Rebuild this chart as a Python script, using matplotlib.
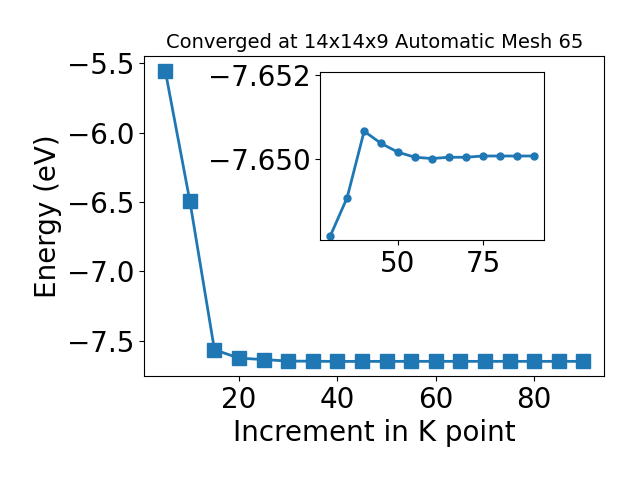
import matplotlib
matplotlib.use("Agg")
import matplotlib.pyplot as plt

kpoints = [5, 10, 15, 20, 25, 30, 35, 40, 45, 50, 55, 60, 65, 70, 75, 80, 85, 90]
energy = [-5.551, -6.492, -7.566, -7.627, -7.637,
          -7.64815, -7.64907, -7.65065, -7.65036, -7.65015, -7.65003, -7.65000,
          -7.65003, -7.65003, -7.65006, -7.65006, -7.65006, -7.65006]
inset_k = kpoints[5:]
inset_e = energy[5:]
title = "Converged at 14x14x9 Automatic Mesh 65"

fig = plt.figure(figsize=(6.4, 4.8), dpi=100)
ax = fig.add_axes([0.2255, 0.2167, 0.71875, 0.6667])
ax.plot(kpoints, energy, marker='s', markersize=10, linewidth=2, color='#1f77b4')
ax.set_xlabel("Increment in K point", fontsize=20)
ax.set_ylabel("Energy (eV)", fontsize=20)
ax.set_title(title, fontsize=14)
ax.tick_params(labelsize=20)
ax.set_xticks([20, 40, 60, 80])
ax.set_yticks([-7.5, -7.0, -6.5, -6.0, -5.5])

ins = fig.add_axes([0.5, 0.5, 0.35, 0.35])
ins.plot(inset_k, inset_e, marker='o', markersize=5, linewidth=2, color='#1f77b4')
ins.set_ylim(-7.64806, -7.65206)
ins.set_yticks([-7.652, -7.650])
ins.set_xticks([50, 75])
ins.tick_params(labelsize=20)

fig.savefig("out.png", dpi=100)
